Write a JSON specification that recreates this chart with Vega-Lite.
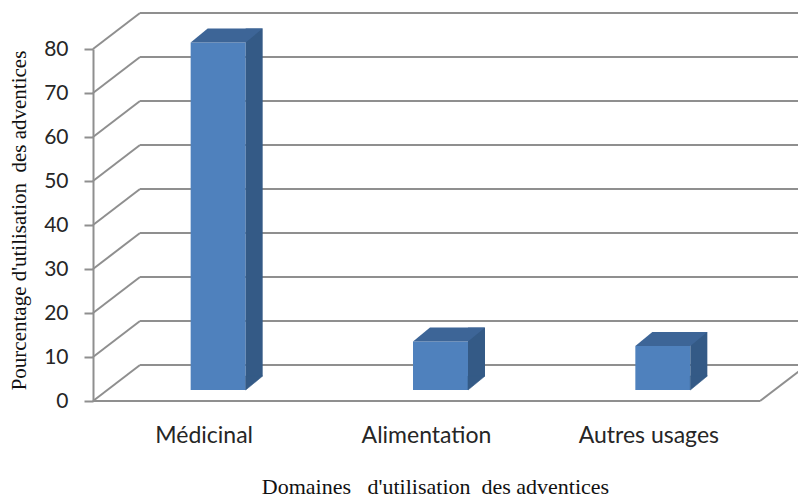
{
  "$schema": "https://vega.github.io/schema/vega-lite/v6.json",
  "width": 667,
  "height": 352,
  "autosize": {"type": "none"},
  "padding": {"left": 93, "top": 49, "right": 38, "bottom": 98},
  "background": "white",
  "config": {"view": {"stroke": null}},
  "resolve": {"scale": {"x": "independent"}},
  "layer": [
    {
      "data": {"values": [
        {"value": 0}, {"value": 10}, {"value": 20}, {"value": 30}, {"value": 40},
        {"value": 50}, {"value": 60}, {"value": 70}, {"value": 80}
      ]},
      "layer": [
        {
          "mark": {"type": "rule", "color": "#8f8f8f", "strokeWidth": 2, "x2Offset": 47, "y2Offset": -36},
          "encoding": {
            "x": {"datum": 0, "type": "quantitative", "scale": {"domain": [0, 1]}, "axis": null},
            "x2": {"datum": 0},
            "y": {
              "field": "value", "type": "quantitative", "scale": {"domain": [0, 80]},
              "axis": {
                "title": "Pourcentage d'utilisation\u00a0 des adventices",
                "values": [0, 10, 20, 30, 40, 50, 60, 70, 80],
                "grid": false, "domainColor": "#8f8f8f", "domainWidth": 2,
                "tickColor": "#8f8f8f", "tickWidth": 2, "tickSize": 9,
                "labelFont": "Lato", "labelFontSize": 21, "labelColor": "#262626", "labelPadding": 16,
                "titleFont": "Liberation Serif", "titleFontSize": 21, "titleFontWeight": "normal", "titleColor": "#111111",
                "titleX": -68, "titleY": 171, "titleBaseline": "alphabetic", "titleAlign": "center", "titleAngle": -90
              }
            },
            "y2": {"field": "value"}
          }
        },
        {
          "mark": {"type": "rule", "color": "#8f8f8f", "strokeWidth": 2, "xOffset": 47, "x2Offset": 47, "yOffset": -36, "y2Offset": -36},
          "encoding": {
            "x": {"datum": 0, "type": "quantitative", "scale": {"domain": [0, 1]}, "axis": null},
            "x2": {"datum": 1},
            "y": {"field": "value", "type": "quantitative"},
            "y2": {"field": "value"}
          }
        },
        {
          "transform": [{"filter": "datum.value == 0"}],
          "mark": {"type": "rule", "color": "#8f8f8f", "strokeWidth": 2, "x2Offset": 47, "y2Offset": -36},
          "encoding": {
            "x": {"datum": 1, "type": "quantitative", "scale": {"domain": [0, 1]}, "axis": null},
            "x2": {"datum": 1},
            "y": {"field": "value", "type": "quantitative"},
            "y2": {"field": "value"}
          }
        },
        {
          "transform": [{"filter": "datum.value == 0"}],
          "mark": {"type": "rule", "color": "#8f8f8f", "strokeWidth": 2},
          "encoding": {
            "x": {"datum": 0, "type": "quantitative", "scale": {"domain": [0, 1]}, "axis": null},
            "x2": {"datum": 1},
            "y": {"field": "value", "type": "quantitative"}
          }
        }
      ]
    },
    {
      "data": {"values": [
        {"domaine": "Médicinal", "value": 79},
        {"domaine": "Alimentation", "value": 11},
        {"domaine": "Autres usages", "value": 10}
      ]},
      "encoding": {
        "x": {
          "field": "domaine", "type": "nominal", "sort": null,
          "scale": {"paddingInner": 0, "paddingOuter": 0},
          "axis": {
            "title": "Domaines\u00a0\u00a0 d'utilisation\u00a0 des adventices",
            "labelAngle": 0, "ticks": false, "tickSize": 0, "domain": false,
            "labelFont": "Lato", "labelFontSize": 23, "labelColor": "#262626", "labelPadding": 23,
            "titleFont": "Liberation Serif", "titleFontSize": 22, "titleFontWeight": "normal", "titleColor": "#111111",
            "titleX": 342, "titleY": 92, "titleBaseline": "alphabetic", "titleAlign": "center"
          }
        }
      },
      "layer": [
        {
          "mark": {"type": "bar", "width": 55, "color": "#4f81bd", "xOffset": 14, "yOffset": -11, "y2Offset": -11},
          "encoding": {
            "y": {"field": "value", "type": "quantitative"},
            "y2": {"datum": 0}
          }
        },
        {
          "mark": {"type": "bar", "width": 17, "color": "#345a86", "xOffset": 50, "yOffset": -25, "y2Offset": -25},
          "encoding": {
            "y": {"field": "value", "type": "quantitative"},
            "y2": {"datum": 0}
          }
        },
        {
          "mark": {"type": "point", "shape": "M41.5,-25L41.5,-11L58.5,-25Z", "size": 4, "filled": true, "opacity": 1, "color": "#345a86", "strokeWidth": 0.6, "stroke": "#345a86"},
          "encoding": {
            "y": {"datum": 0, "type": "quantitative"}
          }
        },
        {
          "mark": {"type": "point", "shape": "M-13.5,-11L41.5,-11L58.5,-25L3.5,-25Z", "size": 4, "filled": true, "opacity": 1, "color": "#3d6597"},
          "encoding": {
            "y": {"field": "value", "type": "quantitative"}
          }
        }
      ]
    }
  ]
}
